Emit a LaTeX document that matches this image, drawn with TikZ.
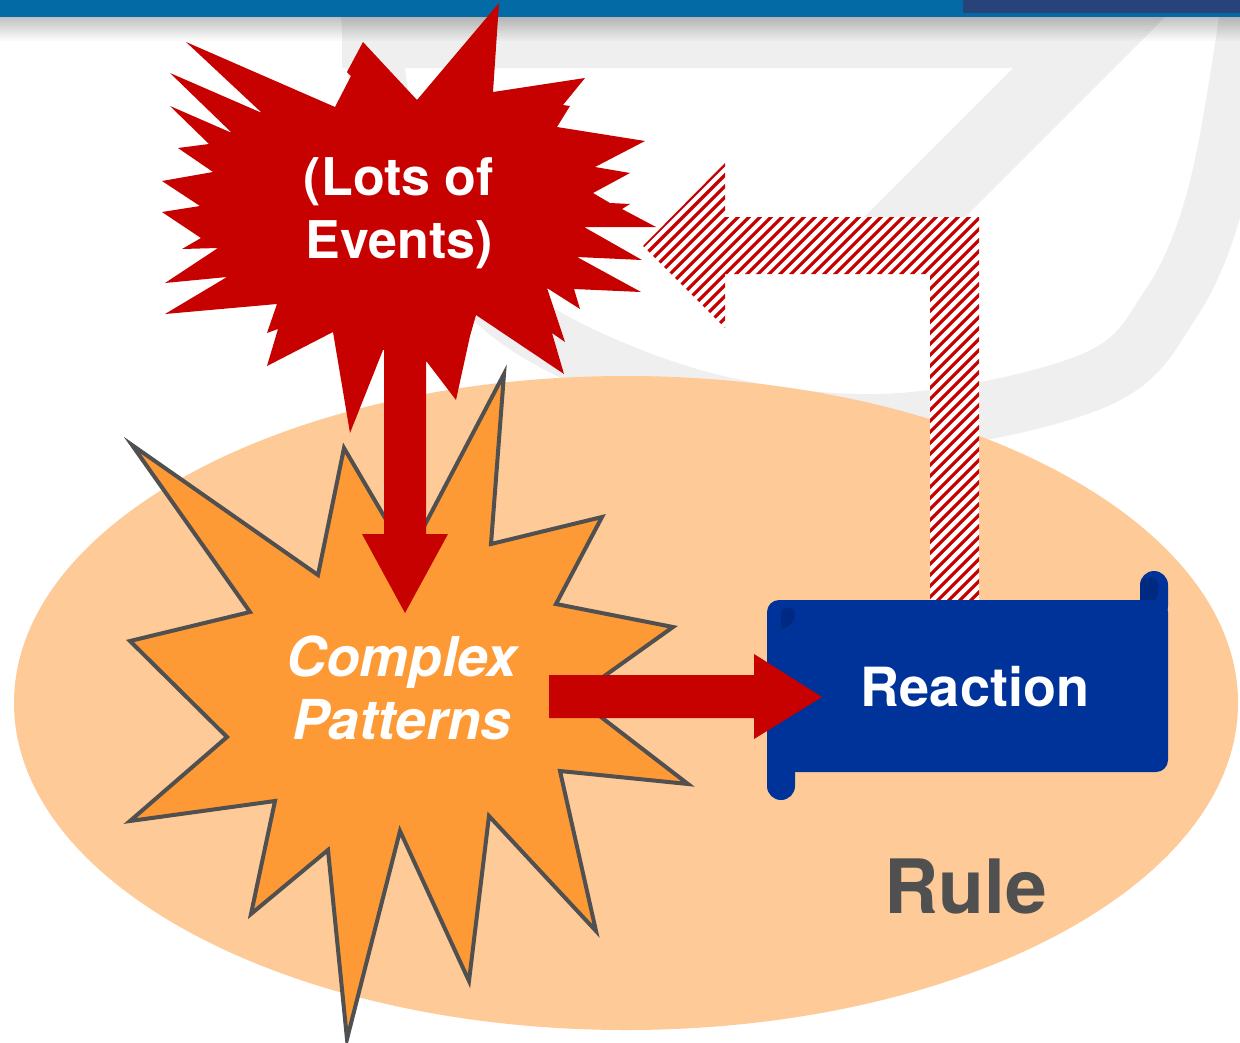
\documentclass[tikz,border=0pt]{standalone}
\usepackage{fontspec}
\newfontfamily\hv{TeX Gyre Heros}
\definecolor{barblue}{RGB}{3,106,166}
\definecolor{barnavy}{RGB}{39,67,122}
\definecolor{wmgray}{RGB}{239,239,239}
\definecolor{evred}{RGB}{199,0,0}
\definecolor{patorange}{RGB}{254,154,53}
\definecolor{rulepeach}{RGB}{254,203,152}
\definecolor{scrollblue}{RGB}{0,51,153}
\definecolor{scrolldark}{RGB}{0,42,130}
\definecolor{inkgray}{RGB}{80,80,80}
\tikzset{
  whitelbl/.style={inner sep=0pt, text=white, align=center},
  redshape/.style={fill=evred},
  hatchline/.style={evred, line width=3.2pt},
}
\begin{document}
\begin{tikzpicture}[x=1pt,y=-1pt]
\useasboundingbox (0,0) rectangle (1240,1042);
\fill[white] (0,0) rectangle (1240,1042);

% faint logo in the background
\draw[wmgray, line width=58pt] plot[smooth, tension=0.6] coordinates
  {(370,-20) (370,17) (395,160) (470,275) (560,345) (720,405) (900,422)
   (1095,380) (1170,305) (1215,200) (1245,40) (1250,-20)};
\fill[wmgray] (342,10) -- (1172,10) -- (932,250) -- (831,250) -- (1013,68) -- (342,68) -- cycle;

% header bar with its soft shadow
\foreach \i in {0,...,11} {
  \pgfmathsetmacro\op{0.24*(1-\i/12)}
  \fill[black, opacity=\op] (0,{17+2*\i}) rectangle (1240,{19+2*\i});
}
\fill[barblue] (0,0) rectangle (1240,17);
\fill[barnavy] (963,0) rectangle (1240,13);

% the rule
\fill[rulepeach] (626,703) ellipse [x radius=612, y radius=327];
\node[inner sep=0pt, anchor=base, text=inkgray,
      font=\hv\bfseries\fontsize{75}{90}\selectfont] (rule) at (966,913) {Rule};

% feedback arrow from the reaction back to the events
\path (954,600) coordinate (fbstart) (643,246) coordinate (fbend);
\begin{scope}
  \path[clip] (979,603) -- (979,217) -- (725,217) -- (725,163) -- (fbend)
    -- (725,328) -- (725,274) -- (930,274) -- (930,603) -- cycle;
  \fill[white] (600,150) rectangle (1000,620);
  \foreach \k in {0,...,80} {
    \draw[hatchline] ({130+11*\k},660) -- ++(520,-520);
  }
\end{scope}

% burst of events
\fill[redshape] (499,3) -- (493,92) -- (585,78) -- (563,105) -- (570,106) -- (557,127)
  -- (645,141) -- (595,167) -- (630,173) -- (593,193) -- (610,203) -- (630,204)
  -- (622,209) -- (656,227) -- (584,227) -- (642,260) -- (577,257) -- (641,292)
  -- (574,289) -- (580,309) -- (547,288) -- (565,342) -- (552,333) -- (564,374)
  -- (476,315) -- (470,336) -- (456,400) -- (427,362) -- (405,348) -- (383,350)
  -- (350,433) -- (333,332) -- (267,366) -- (278,329) -- (267,333) -- (277,304)
  -- (165,314) -- (227,277) -- (165,283) -- (218,248) -- (182,249) -- (201,238)
  -- (162,212) -- (200,206) -- (162,181) -- (213,172) -- (178,148) -- (209,144)
  -- (170,106) -- (232,133) -- (170,73) -- (262,113) -- (186,42) -- (335,107)
  -- (351,76) -- (347,72) -- (363,42) -- (417,100) -- cycle;
\node[whitelbl, font=\hv\bfseries\fontsize{52}{63}\selectfont] (events) at (399,213)
  {(Lots of\\Events)};

% burst of complex patterns
\filldraw[fill=patorange, draw=inkgray, line width=4pt, miter limit=20]
  (132,445) -- (318,575) -- (344,448) -- (408,557) -- (504,374) -- (491,544)
  -- (602,517) -- (556,604) -- (673,627) -- (575,697) -- (688,784) -- (560,771)
  -- (596,931) -- (489,816) -- (469,981) -- (400,831) -- (347,1039) -- (328,850)
  -- (251,914) -- (275,801) -- (130,821) -- (227,737) -- (130,641) -- (250,612)
  -- cycle;

% the reaction scroll
\fill[scrollblue, rounded corners=14pt] (767,740) rectangle (795,800);
\fill[scrollblue, rounded corners=14pt] (1140,571) rectangle (1168,620);
\fill[scrollblue, rounded corners=12pt] (767,600) rectangle (1168,772);
\fill[scrolldark] (795,614) .. controls (795,606) and (781,606) .. (781,614)
  -- (781,629) .. controls (789,628) and (795,622) .. (795,614) -- cycle;
\fill[scrolldark] (1140,586) .. controls (1140,576) and (1156,574) .. (1158,584)
  .. controls (1160,592) and (1158,597) .. (1155,600) -- (1140,600) -- cycle;
\node[inner sep=0pt, anchor=base, text=white,
      font=\hv\bfseries\fontsize{54}{65}\selectfont] (reaction) at (975,706) {Reaction};

% block arrows
\fill[redshape] (384,300) -- (426,300) -- (426,534) -- (448,534) -- (405,613)
  -- (362,534) -- (384,534) -- cycle;
\fill[redshape] (549,675) -- (754,675) -- (754,654) -- (822,697) -- (754,739)
  -- (754,718) -- (549,718) -- cycle;

\node[whitelbl, font=\hv\bfseries\itshape\fontsize{55}{63}\selectfont] (patterns)
  at (402,688) {Complex\\Patterns};
\end{tikzpicture}
\end{document}
